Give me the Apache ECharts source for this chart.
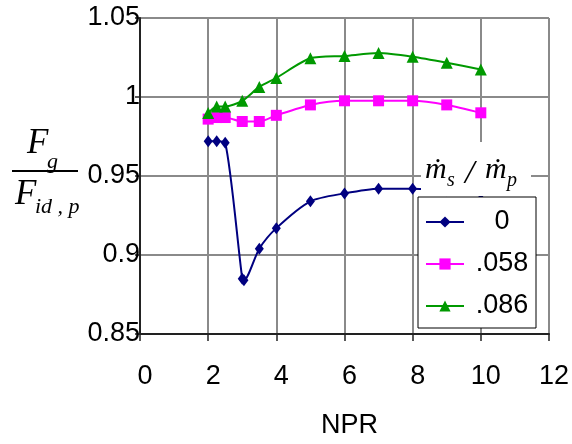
<!DOCTYPE html>
<html>
<head>
<meta charset="utf-8">
<title>Gross thrust ratio vs NPR</title>
<script src="https://cdn.jsdelivr.net/npm/echarts@6/dist/echarts.min.js"></script>
<style>
  html, body { margin: 0; padding: 0; background: #fff; }
  #chart { width: 572px; height: 444px; }
</style>
</head>
<body>
<div id="chart"></div>
<script>
// Nozzle pressure ratio (x) and gross thrust ratio Fg / Fid,p (y)
// for three secondary-to-primary mass-flow ratios.
const seriesNames = ['0', '.058', '.086'];

const npr0 = [2, 2.25, 2.5, 3.0, 3.05, 3.5, 4, 5, 6, 7, 8, 9, 10];
const ratio0 = [0.972, 0.972, 0.971, 0.885, 0.884, 0.904, 0.917, 0.934, 0.939, 0.942, 0.942, 0.941, 0.939];

const npr058 = [2, 2.25, 2.5, 3, 3.5, 4, 5, 6, 7, 8, 9, 10];
const ratio058 = [0.986, 0.987, 0.987, 0.9845, 0.9845, 0.9884, 0.995, 0.9976, 0.9976, 0.9976, 0.995, 0.990];

const npr086 = [2, 2.25, 2.5, 3, 3.5, 4, 5, 6, 7, 8, 9, 10];
const ratio086 = [0.9898, 0.994, 0.994, 0.9976, 1.0064, 1.0121, 1.0245, 1.026, 1.0278, 1.0255, 1.0217, 1.0174];

const xTickLabels = ['0', '2', '4', '6', '8', '10', '12'];
const yTickLabels = ['0.85', '0.9', '0.95', '1', '1.05'];

const pairs = (xs, ys) => xs.map((x, i) => [x, ys[i]]);

const sansFont = '"Liberation Sans", Arial, sans-serif';
const serifFont = '"Liberation Serif", "DejaVu Serif", "Times New Roman", serif';

const chart = echarts.init(document.getElementById('chart'), null, { renderer: 'canvas' });

function lineSeries(name, data, color, symbol, size) {
  return {
    name: name,
    type: 'line',
    data: data,
    smooth: 0.25,
    symbol: symbol,
    symbolSize: size,
    showSymbol: true,
    lineStyle: { color: color, width: 2 },
    itemStyle: { color: color, borderWidth: 0 },
    emphasis: { disabled: true },
    animation: false
  };
}

const option = {
  animation: false,
  backgroundColor: '#ffffff',
  grid: { left: 140, top: 18, width: 409, height: 322, containLabel: false },
  xAxis: {
    type: 'value',
    min: 0,
    max: 12,
    interval: 2,
    name: 'NPR',
    nameLocation: 'middle',
    nameGap: 78,
    nameTextStyle: { fontFamily: sansFont, fontSize: 27, color: '#000', padding: [0, 0, 0, 10] },
    axisLine: { show: true, onZero: false, lineStyle: { color: '#222', width: 2 } },
    axisTick: { show: true, length: 7, lineStyle: { color: '#222', width: 1.5 } },
    axisLabel: {
      margin: 29,
      fontFamily: sansFont,
      fontSize: 27,
      color: '#000',
      padding: [0, 0, 0, 10],
      formatter: (v, i) => xTickLabels[i]
    },
    splitLine: { show: true, lineStyle: { color: '#8a8a8a', width: 2 } }
  },
  yAxis: {
    type: 'value',
    min: 0.85,
    max: 1.05,
    interval: 0.05,
    axisLine: { show: true, onZero: false, lineStyle: { color: '#222', width: 2 } },
    axisTick: { show: true, length: 5, lineStyle: { color: '#222', width: 1.5 } },
    axisLabel: {
      margin: 0,
      fontFamily: sansFont,
      fontSize: 27,
      color: '#000',
      formatter: (v, i) => yTickLabels[i]
    },
    splitLine: { show: true, lineStyle: { color: '#8a8a8a', width: 2 } }
  },
  legend: {
    orient: 'vertical',
    left: 418,
    top: 197,
    padding: [10, 1, 7, 7],
    itemGap: 12,
    itemWidth: 38,
    itemHeight: 14,
    backgroundColor: '#ffffff',
    borderColor: '#000',
    borderWidth: 1,
    borderRadius: 0,
    selectedMode: false,
    data: seriesNames,
    formatter: name => '{t|' + name + '}',
    textStyle: {
      fontFamily: sansFont,
      fontSize: 27,
      color: '#000',
      lineHeight: 30,
      rich: {
        t: { width: 66, align: 'center', fontFamily: sansFont, fontSize: 27, lineHeight: 30, color: '#000' }
      }
    }
  },
  series: [
    lineSeries(seriesNames[0], pairs(npr0, ratio0), '#000080', 'diamond', [9, 12]),
    lineSeries(seriesNames[1], pairs(npr058, ratio058), '#ff00ff', 'rect', [11, 11]),
    lineSeries(seriesNames[2], pairs(npr086, ratio086), '#009900', 'triangle', [12, 12])
  ],
  graphic: {
    elements: [
      // y-axis title: Fg / Fid,p
      { type: 'text', z: 10, left: 27, top: 126, style: { text: 'F', font: 'italic 35px ' + serifFont, fill: '#000' } },
      { type: 'text', z: 10, left: 47, top: 151, style: { text: 'g', font: 'italic 22px ' + serifFont, fill: '#000' } },
      { type: 'rect', z: 10, shape: { x: 12, y: 170, width: 66, height: 2 }, style: { fill: '#000' } },
      { type: 'text', z: 10, left: 15, top: 177, style: { text: 'F', font: 'italic 35px ' + serifFont, fill: '#000' } },
      { type: 'text', z: 10, left: 35, top: 196, style: { text: 'id , p', font: 'italic 22px ' + serifFont, fill: '#000' } },
      // legend heading: ṁs / ṁp on a white panel
      { type: 'rect', z: 10, shape: { x: 421, y: 142, width: 110, height: 54 }, style: { fill: '#ffffff' } },
      { type: 'text', z: 11, left: 425, top: 155, style: { text: 'ṁ', font: 'italic 30px ' + serifFont, fill: '#000' } },
      { type: 'text', z: 11, left: 447, top: 171, style: { text: 's', font: 'italic 20px ' + serifFont, fill: '#000' } },
      { type: 'text', z: 11, left: 465, top: 157, style: { text: '/', font: 'italic 34px ' + serifFont, fill: '#000' } },
      { type: 'text', z: 11, left: 485, top: 155, style: { text: 'ṁ', font: 'italic 30px ' + serifFont, fill: '#000' } },
      { type: 'text', z: 11, left: 507, top: 171, style: { text: 'p', font: 'italic 20px ' + serifFont, fill: '#000' } }
    ]
  }
};

chart.setOption(option);
</script>
</body>
</html>
